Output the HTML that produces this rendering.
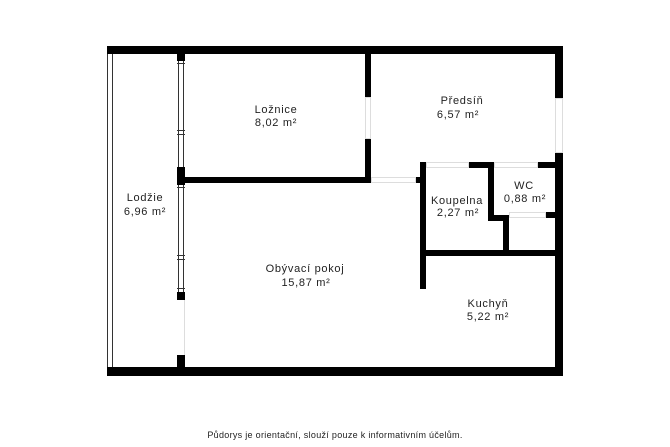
<!DOCTYPE html><html><head><style>body{margin:0;background:#fff}svg{display:block}text{font-family:"Liberation Sans","DejaVu Sans",sans-serif;font-size:11px;fill:#222;text-anchor:middle;letter-spacing:0.7px}</style></head><body>
<svg width="670" height="447" viewBox="0 0 670 447">
<g fill="#000">
<rect x="107" y="46" width="456" height="8"/>
<rect x="107" y="367" width="456" height="9"/>
<rect x="555" y="46" width="8" height="52"/>
<rect x="555" y="152" width="8" height="224"/>
<rect x="177" y="54" width="8" height="7"/>
<rect x="177" y="167" width="8" height="18"/>
<rect x="177" y="292" width="8" height="8"/>
<rect x="177" y="355" width="8" height="14"/>
<rect x="185" y="177" width="187" height="6"/>
<rect x="365" y="54" width="6" height="43"/>
<rect x="365" y="138" width="6" height="45"/>
<rect x="415" y="177" width="6" height="6"/>
<rect x="420" y="162" width="6" height="127"/>
<rect x="468" y="162" width="27" height="6"/>
<rect x="537" y="162" width="18" height="6"/>
<rect x="488" y="162" width="6" height="59"/>
<rect x="488" y="215" width="20" height="6"/>
<rect x="503" y="215" width="6" height="37"/>
<rect x="545" y="212" width="10" height="6"/>
<rect x="426" y="250" width="129" height="6"/>
</g>
<g stroke="#333" stroke-width="1" fill="none">
<line x1="107.5" y1="54" x2="107.5" y2="367"/>
<line x1="112.5" y1="54" x2="112.5" y2="367"/>
<line x1="178.5" y1="61" x2="178.5" y2="167"/>
<line x1="183.5" y1="61" x2="183.5" y2="167"/>
<line x1="178.5" y1="185" x2="178.5" y2="292"/>
<line x1="183.5" y1="185" x2="183.5" y2="292"/>
<line x1="177" y1="63.5" x2="185" y2="63.5"/>
<line x1="177" y1="130.5" x2="185" y2="130.5"/>
<line x1="177" y1="134.5" x2="185" y2="134.5"/>
<line x1="177" y1="187.5" x2="185" y2="187.5"/>
<line x1="177" y1="255.5" x2="185" y2="255.5"/>
<line x1="177" y1="259.5" x2="185" y2="259.5"/>
<line x1="177" y1="288.5" x2="185" y2="288.5"/>
</g>
<g stroke="#ddd" stroke-width="1" fill="none">
<rect x="371.5" y="177.5" width="44" height="5"/>
<rect x="426.5" y="162.5" width="42" height="5"/>
<rect x="494.5" y="162.5" width="43" height="5"/>
<rect x="509.5" y="212.5" width="36" height="5"/>
<rect x="365.5" y="97.5" width="5" height="41"/>
<rect x="555.5" y="98.5" width="7" height="54"/>
<line x1="184.5" y1="300" x2="184.5" y2="355"/>
</g>
<text x="276" y="113">Ložnice</text><text x="276" y="126">8,02 m²</text>
<text x="145" y="201">Lodžie</text><text x="145" y="215">6,96 m²</text>
<text x="462" y="104">Předsíň</text><text x="458" y="118">6,57 m²</text>
<text x="457" y="204">Koupelna</text><text x="458" y="216">2,27 m²</text>
<text x="524" y="189">WC</text><text x="525" y="202">0,88 m²</text>
<text x="305" y="272">Obývací pokoj</text><text x="306" y="286">15,87 m²</text>
<text x="488" y="307">Kuchyň</text><text x="488" y="320">5,22 m²</text>
<text x="335" y="438" style="font-size:9px;letter-spacing:0.3px">Půdorys je orientační, slouží pouze k informativním účelům.</text>
</svg></body></html>
